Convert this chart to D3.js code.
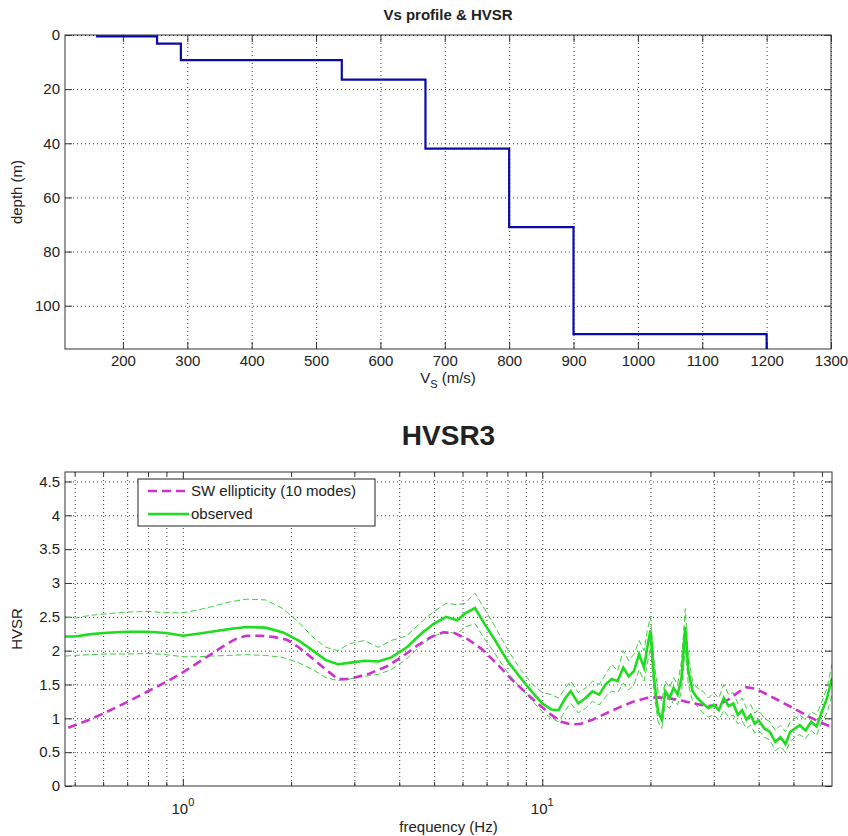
<!DOCTYPE html>
<html>
<head>
<meta charset="utf-8">
<script src="https://cdn.jsdelivr.net/npm/d3@7"></script>
<style>
  body { margin: 0; background: #fff; }
  text { font-family: "Liberation Sans", Arial, Helvetica, sans-serif; fill: #222; }
  .grid line { stroke: #3a3a3a; stroke-dasharray: 1,3; stroke-width: 1; }
  .grid path { display: none; }
  .ticks path { display: none; }
  .ticks line { stroke: #333; }
  .ticks text { font-size: 15px; }
</style>
</head>
<body>
<div id="chart-area"></div>
<script>
// ---- Vs profile (top panel) ----
const vsValues = [160, 253, 290, 540, 670, 800, 900, 1200]
const layerTops = [0, 0.5, 3.2, 9.3, 16.5, 42, 71, 110.5]
const maxDepth = 116
const vsTicks = [200, 300, 400, 500, 600, 700, 800, 900, 1000, 1100, 1200, 1300]
const depthTicks = [0, 20, 40, 60, 80, 100]

// ---- HVSR (bottom panel) ----
const ellFreq = [0.48, 0.55, 0.6, 0.7, 0.8, 0.9, 1.0, 1.1, 1.2, 1.3, 1.4, 1.5, 1.65, 1.8, 1.95, 2.1, 2.3, 2.5, 2.7,
  2.85, 3.0, 3.3, 3.7, 4.1, 4.5, 4.9, 5.3, 5.7, 6.2, 6.8, 7.5, 8.2, 9.0, 9.8, 10.6, 11.3, 12.0, 12.8, 13.8,
  15.0, 16.5, 18.0, 19.5, 21.0, 23.0, 25.0, 27.0, 29.0, 31.0, 33.0, 35.0, 37.0, 39.0, 42.0, 46.0, 50.0, 55.0, 60.0, 64.0]
const ellValues = [0.86, 0.98, 1.07, 1.24, 1.40, 1.54, 1.68, 1.82, 1.95, 2.07, 2.17, 2.22, 2.22, 2.20, 2.16, 2.05, 1.88, 1.72, 1.58,
  1.58, 1.60, 1.66, 1.77, 1.92, 2.08, 2.20, 2.27, 2.26, 2.17, 2.02, 1.80, 1.58, 1.38, 1.20, 1.05, 0.95, 0.91, 0.92, 0.98,
  1.07, 1.17, 1.25, 1.30, 1.31, 1.29, 1.25, 1.21, 1.18, 1.20, 1.28, 1.38, 1.46, 1.44, 1.36, 1.25, 1.15, 1.03, 0.93, 0.87]

const obsFreq = [0.47, 0.5, 0.55, 0.6, 0.7, 0.8, 0.9, 1.0, 1.1, 1.2, 1.35, 1.5, 1.7, 1.9, 2.1, 2.3, 2.5, 2.7, 2.9, 3.2,
  3.5, 3.8, 4.2, 4.6, 5.0, 5.4, 5.8, 6.1, 6.5, 6.9, 7.4, 8.0, 8.7, 9.4, 10.0, 10.6, 11.1, 11.6, 12.0, 12.6,
  13.2, 13.8, 14.4, 15.0, 15.6, 16.2, 16.8, 17.4, 18.0, 18.6, 19.2, 19.6, 20.0, 20.5, 21.0, 21.5, 22.0, 22.6,
  23.2, 23.8, 24.4, 25.0, 25.5, 26.2, 27.0, 28.0, 29.0, 30.0, 31.0, 32.0, 33.0, 34.0, 35.0, 36.0, 37.0, 38.0,
  39.0, 40.0, 41.5, 43.0, 44.5, 46.0, 47.5, 49.0, 50.5, 52.0, 54.0, 56.0, 58.0, 60.0, 62.0, 64.0]
const obsMean = [2.21, 2.21, 2.24, 2.26, 2.28, 2.28, 2.26, 2.22, 2.25, 2.28, 2.32, 2.35, 2.34, 2.27, 2.15, 2.00, 1.86, 1.80, 1.82, 1.85,
  1.84, 1.90, 2.05, 2.25, 2.40, 2.50, 2.45, 2.55, 2.63, 2.40, 2.15, 1.85, 1.60, 1.38, 1.22, 1.13, 1.12, 1.30, 1.40, 1.22,
  1.30, 1.40, 1.35, 1.50, 1.58, 1.55, 1.75, 1.62, 1.70, 1.95, 1.75, 2.05, 2.30, 1.55, 1.10, 0.98, 1.40, 1.30,
  1.45, 1.35, 1.60, 2.35, 1.70, 1.40, 1.30, 1.22, 1.15, 1.20, 1.12, 1.30, 1.18, 1.22, 1.05, 1.12, 0.98, 1.05,
  0.92, 0.97, 0.85, 0.80, 0.65, 0.72, 0.62, 0.80, 0.85, 0.90, 0.82, 0.95, 0.88, 1.10, 1.30, 1.60]
const obsUpper = [2.50, 2.48, 2.52, 2.54, 2.57, 2.58, 2.56, 2.56, 2.60, 2.65, 2.72, 2.76, 2.75, 2.62, 2.42, 2.20, 2.05, 2.00, 2.10, 2.15,
  2.05, 2.15, 2.22, 2.42, 2.58, 2.70, 2.68, 2.70, 2.85, 2.62, 2.35, 2.02, 1.72, 1.50, 1.38, 1.35, 1.30, 1.45, 1.55, 1.38,
  1.45, 1.55, 1.50, 1.65, 1.80, 1.70, 2.00, 1.85, 1.95, 2.15, 2.00, 2.30, 2.50, 1.80, 1.40, 1.25, 1.55, 1.45,
  1.60, 1.50, 1.85, 2.62, 1.90, 1.55, 1.45, 1.40, 1.30, 1.38, 1.30, 1.50, 1.35, 1.38, 1.22, 1.30, 1.15, 1.20,
  1.08, 1.12, 1.00, 0.95, 0.82, 0.90, 0.80, 0.95, 1.00, 1.05, 0.98, 1.10, 1.05, 1.25, 1.45, 1.80]
const obsLower = [1.92, 1.93, 1.94, 1.95, 1.95, 1.96, 1.94, 1.91, 1.91, 1.92, 1.93, 1.94, 1.93, 1.90, 1.82, 1.72, 1.60, 1.56, 1.58, 1.62,
  1.65, 1.72, 1.88, 2.08, 2.22, 2.28, 2.25, 2.35, 2.40, 2.18, 1.95, 1.68, 1.45, 1.25, 1.10, 1.00, 0.95, 1.12, 1.22, 1.08,
  1.15, 1.25, 1.20, 1.32, 1.40, 1.38, 1.52, 1.42, 1.50, 1.72, 1.55, 1.80, 2.05, 1.35, 0.95, 0.85, 1.20, 1.15,
  1.28, 1.20, 1.40, 2.05, 1.50, 1.25, 1.18, 1.08, 1.02, 1.05, 0.98, 1.12, 1.02, 1.05, 0.92, 0.96, 0.85, 0.90,
  0.78, 0.82, 0.72, 0.68, 0.52, 0.58, 0.50, 0.66, 0.72, 0.76, 0.70, 0.82, 0.75, 0.95, 1.08, 1.35]

const freqGrid = [0.5, 0.6, 0.7, 0.8, 0.9, 1, 2, 3, 4, 5, 6, 7, 8, 9, 10, 20, 30, 40, 50, 60]
const freqMajor = [1, 10]
const hvTicks = [0, 0.5, 1, 1.5, 2, 2.5, 3, 3.5, 4, 4.5]

const P1 = { LEFT: 65, TOP: 35, WIDTH: 766, HEIGHT: 314 }
const P2 = { LEFT: 65, TOP: 472, WIDTH: 767, HEIGHT: 314 }

const svg = d3.select("#chart-area").append("svg")
  .attr("width", 848)
  .attr("height", 836)

svg.append("rect").attr("width", 848).attr("height", 836).attr("fill", "#fff")

// ================= top panel =================
const g1 = svg.append("g").attr("transform", `translate(${P1.LEFT}, ${P1.TOP})`)

const x1 = d3.scaleLinear().domain([110, 1300]).range([0, P1.WIDTH])
const y1 = d3.scaleLinear().domain([0, maxDepth]).range([0, P1.HEIGHT])

g1.append("g").attr("class", "grid")
  .call(d3.axisBottom(x1).tickValues(vsTicks).tickSize(P1.HEIGHT).tickFormat(""))
g1.append("g").attr("class", "grid")
  .call(d3.axisRight(y1).tickValues(depthTicks).tickSize(P1.WIDTH).tickFormat(""))

g1.append("g").attr("class", "ticks")
  .attr("transform", `translate(0, ${P1.HEIGHT})`)
  .call(d3.axisBottom(x1).tickValues(vsTicks).tickSize(-7).tickPadding(6).tickFormat(d => String(d)))
g1.append("g").attr("class", "ticks")
  .call(d3.axisTop(x1).tickValues(vsTicks).tickSize(-7).tickFormat(""))
g1.append("g").attr("class", "ticks")
  .call(d3.axisLeft(y1).tickValues(depthTicks).tickSize(-7).tickPadding(5).tickFormat(d => String(d)))
g1.append("g").attr("class", "ticks")
  .attr("transform", `translate(${P1.WIDTH}, 0)`)
  .call(d3.axisRight(y1).tickValues(depthTicks).tickSize(-7).tickFormat(""))

g1.append("rect")
  .attr("width", P1.WIDTH).attr("height", P1.HEIGHT)
  .attr("fill", "none").attr("stroke", "#333")

// stair profile
const profile = []
vsValues.forEach((vs, i) => {
  const bottom = i < vsValues.length - 1 ? layerTops[i + 1] : maxDepth
  profile.push([vs, layerTops[i]])
  profile.push([vs, bottom])
})

g1.append("path")
  .datum(profile)
  .attr("fill", "none")
  .attr("stroke", "#0a0aa8")
  .attr("stroke-width", 2.2)
  .attr("d", d3.line().x(d => x1(d[0])).y(d => y1(d[1])))

svg.append("text")
  .attr("x", P1.LEFT + P1.WIDTH / 2).attr("y", 20)
  .attr("text-anchor", "middle")
  .attr("font-size", "15px").attr("font-weight", "bold")
  .text("Vs profile & HVSR")

const vsLabel = svg.append("text")
  .attr("x", P1.LEFT + P1.WIDTH / 2).attr("y", 383)
  .attr("text-anchor", "middle")
  .attr("font-size", "15px")
vsLabel.append("tspan").text("V")
vsLabel.append("tspan").attr("dy", 5).attr("font-size", "11px").text("S")
vsLabel.append("tspan").attr("dy", -5).text(" (m/s)")

svg.append("text")
  .attr("transform", `translate(22, ${P1.TOP + P1.HEIGHT / 2}) rotate(-90)`)
  .attr("text-anchor", "middle")
  .attr("font-size", "15px")
  .text("depth (m)")

// ================= bottom panel =================
svg.append("text")
  .attr("x", P2.LEFT + P2.WIDTH / 2).attr("y", 445)
  .attr("text-anchor", "middle")
  .attr("font-size", "28px").attr("font-weight", "bold")
  .attr("fill", "#000")
  .text("HVSR3")

const g2 = svg.append("g").attr("transform", `translate(${P2.LEFT}, ${P2.TOP})`)

const x2 = d3.scaleLog().domain([0.47, 64]).range([0, P2.WIDTH])
const y2 = d3.scaleLinear().domain([0, 4.64]).range([P2.HEIGHT, 0])

g2.append("g").attr("class", "grid")
  .call(d3.axisBottom(x2).tickValues(freqGrid).tickSize(P2.HEIGHT).tickFormat(""))
g2.append("g").attr("class", "grid")
  .call(d3.axisRight(y2).tickValues(hvTicks.slice(1)).tickSize(P2.WIDTH).tickFormat(""))

const minorFreq = freqGrid.filter(f => !freqMajor.includes(f))
g2.append("g").attr("class", "ticks")
  .attr("transform", `translate(0, ${P2.HEIGHT})`)
  .call(d3.axisBottom(x2).tickValues(minorFreq).tickSize(-4).tickFormat(""))
g2.append("g").attr("class", "ticks")
  .attr("transform", `translate(0, ${P2.HEIGHT})`)
  .call(d3.axisBottom(x2).tickValues(freqMajor).tickSize(-7).tickFormat(""))
g2.append("g").attr("class", "ticks")
  .call(d3.axisTop(x2).tickValues(minorFreq).tickSize(-4).tickFormat(""))
g2.append("g").attr("class", "ticks")
  .call(d3.axisTop(x2).tickValues(freqMajor).tickSize(-7).tickFormat(""))
g2.append("g").attr("class", "ticks")
  .call(d3.axisLeft(y2).tickValues(hvTicks).tickSize(-7).tickPadding(5).tickFormat(d => String(d)))
g2.append("g").attr("class", "ticks")
  .attr("transform", `translate(${P2.WIDTH}, 0)`)
  .call(d3.axisRight(y2).tickValues(hvTicks).tickSize(-7).tickFormat(""))

// 10^n labels
freqMajor.forEach(f => {
  const t = g2.append("text")
    .attr("x", x2(f)).attr("y", P2.HEIGHT + 28)
    .attr("text-anchor", "middle")
    .attr("font-size", "15px")
  t.append("tspan").text("10")
  t.append("tspan").attr("dy", -8).attr("font-size", "11px").text(String(Math.round(Math.log10(f))))
})

svg.append("text")
  .attr("x", P2.LEFT + P2.WIDTH / 2).attr("y", 832)
  .attr("text-anchor", "middle")
  .attr("font-size", "15px")
  .text("frequency (Hz)")

svg.append("text")
  .attr("transform", `translate(22, ${P2.TOP + P2.HEIGHT / 2}) rotate(-90)`)
  .attr("text-anchor", "middle")
  .attr("font-size", "15px")
  .text("HVSR")

g2.append("clipPath").attr("id", "clip2")
  .append("rect").attr("width", P2.WIDTH).attr("height", P2.HEIGHT)

const plot = g2.append("g").attr("clip-path", "url(#clip2)")
const line2 = d3.line().x(d => x2(d[0])).y(d => y2(d[1]))

plot.append("path")
  .datum(obsFreq.map((f, i) => [f, obsUpper[i]]))
  .attr("fill", "none").attr("stroke", "#3fcf3f")
  .attr("stroke-width", 1).attr("stroke-dasharray", "6,3")
  .attr("d", line2)
plot.append("path")
  .datum(obsFreq.map((f, i) => [f, obsLower[i]]))
  .attr("fill", "none").attr("stroke", "#3fcf3f")
  .attr("stroke-width", 1).attr("stroke-dasharray", "6,3")
  .attr("d", line2)
plot.append("path")
  .datum(ellFreq.map((f, i) => [f, ellValues[i]]))
  .attr("fill", "none").attr("stroke", "#cc33cc")
  .attr("stroke-width", 2.6).attr("stroke-dasharray", "9,5")
  .attr("d", line2)
plot.append("path")
  .datum(obsFreq.map((f, i) => [f, obsMean[i]]))
  .attr("fill", "none").attr("stroke", "#1edc1e")
  .attr("stroke-width", 2.6)
  .attr("d", line2)

g2.append("rect")
  .attr("width", P2.WIDTH).attr("height", P2.HEIGHT)
  .attr("fill", "none").attr("stroke", "#333")

// legend
const legend = svg.append("g").attr("transform", "translate(138, 479)")
legend.append("rect")
  .attr("width", 237).attr("height", 47)
  .attr("fill", "#fff").attr("stroke", "#222")
legend.append("line")
  .attr("x1", 10).attr("x2", 51).attr("y1", 12).attr("y2", 12)
  .attr("stroke", "#cc33cc").attr("stroke-width", 2.6).attr("stroke-dasharray", "9,5")
legend.append("text").attr("x", 53).attr("y", 17).attr("font-size", "15px")
  .text("SW ellipticity (10 modes)")
legend.append("line")
  .attr("x1", 10).attr("x2", 51).attr("y1", 35).attr("y2", 35)
  .attr("stroke", "#1edc1e").attr("stroke-width", 2.6)
legend.append("text").attr("x", 53).attr("y", 40).attr("font-size", "15px")
  .text("observed")
</script>
</body>
</html>
